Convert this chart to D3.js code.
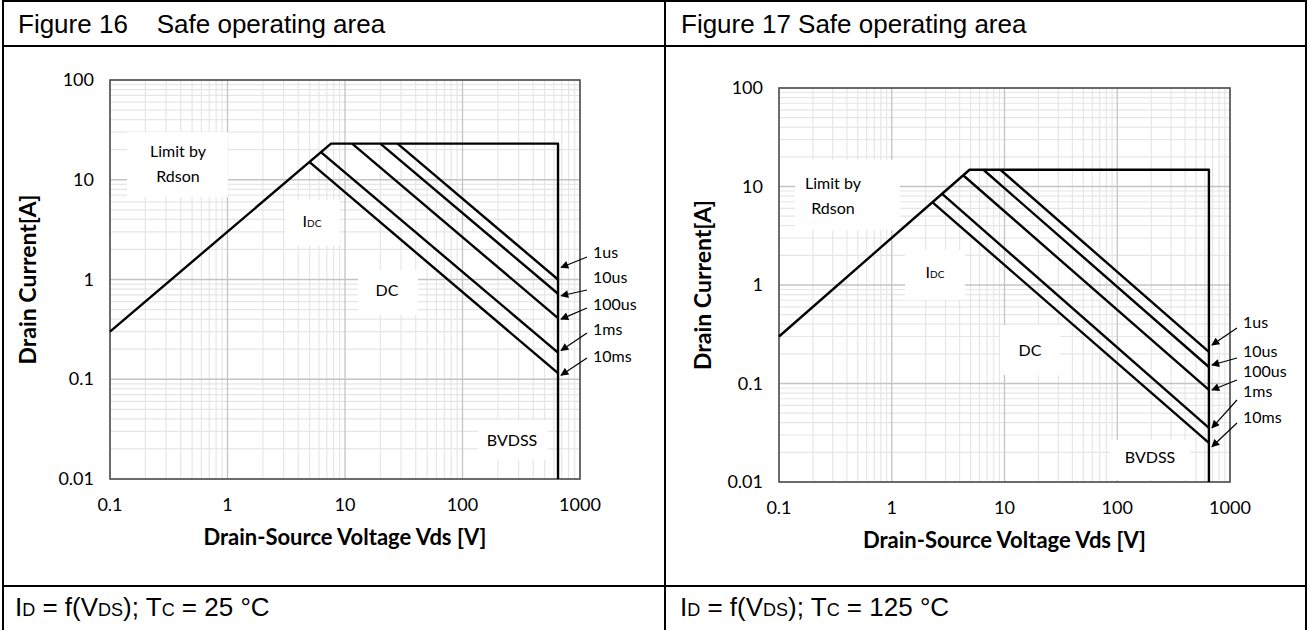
<html>
<head>
<script src="https://d3js.org/d3.v7.min.js"></script>
<style>
  body { margin: 0; background: #fff; }
</style>
</head>
<body>
<svg id="page" width="1308" height="630"></svg>
<script>
// axis ticks
var xTicks = [0.1, 1, 10, 100, 1000];
var yTicks = [0.01, 0.1, 1, 10, 100];
var pulseNames = ["1us", "10us", "100us", "1ms", "10ms"];

// Figure 16, Tc = 25 °C   points are [Vds, Id]
var limit16 = [[0.1, 0.3], [7.6, 23], [650, 23], [650, 0.01]];
var start16 = [[28, 23], [20, 23], [11.5, 23], [6.2, 19], [5, 15]];
var end16 = [[650, 1.0], [650, 0.72], [650, 0.41], [650, 0.185], [650, 0.115]];

// Figure 17, Tc = 125 °C
var limit17 = [[0.1, 0.3], [4.9, 14.8], [650, 14.8], [650, 0.01]];
var start17 = [[9.2, 14.8], [6.5, 14.8], [4.3, 13], [2.8, 8.4], [2.3, 6.9]];
var end17 = [[650, 0.209], [650, 0.147], [650, 0.086], [650, 0.0355], [650, 0.025]];

var svg = d3.select('#page')
var chartFont = "Lato, 'Open Sans', sans-serif"
var tableFont = "'Liberation Sans', Arial, sans-serif"

svg.append('defs').append('marker')
    .attr('id', 'arr')
    .attr('viewBox', '0 0 10 10')
    .attr('refX', 9).attr('refY', 5)
    .attr('markerWidth', 9).attr('markerHeight', 8)
    .attr('markerUnits', 'userSpaceOnUse')
    .attr('orient', 'auto')
    .append('path').attr('d', 'M0,0 L10,5 L0,10 z').attr('fill', '#000')

// table borders
var table = svg.append('g').attr('stroke', '#000').attr('stroke-width', 2)
table.append('line').attr('x1', 3).attr('x2', 3).attr('y1', 0).attr('y2', 630)
table.append('line').attr('x1', 665).attr('x2', 665).attr('y1', 0).attr('y2', 630)
table.append('line').attr('x1', 1306).attr('x2', 1306).attr('y1', 0).attr('y2', 630)
table.append('line').attr('x1', 2).attr('x2', 1307).attr('y1', 1).attr('y2', 1)
table.append('line').attr('x1', 2).attr('x2', 1307).attr('y1', 46).attr('y2', 46)
table.append('line').attr('x1', 2).attr('x2', 1307).attr('y1', 586).attr('y2', 586)

function caption(x, tc) {
    var t = svg.append('text').attr('x', x).attr('y', 616)
        .style('font-family', tableFont).style('font-size', '26px').attr('fill', '#000')
    t.append('tspan').text('I')
    t.append('tspan').text('D').style('font-size', '18px')
    t.append('tspan').text(' = f(V')
    t.append('tspan').text('DS').style('font-size', '18px')
    t.append('tspan').text('); T')
    t.append('tspan').text('C').style('font-size', '18px')
    t.append('tspan').text(' = ' + tc + ' \u00b0C')
}

function drawPanel(p) {
    var x = d3.scaleLog().domain([0.1, 1000]).range(p.xr)
    var y = d3.scaleLog().domain([0.01, 100]).range(p.yr)
    var g = svg.append('g')

    // title
    svg.append('text').attr('x', p.titleX).attr('y', 33)
        .style('font-family', tableFont).style('font-size', '26px')
        .attr('xml:space', 'preserve')
        .text(p.title)

    // grid
    var minorX = [], minorY = []
    xTicks.slice(0, -1).forEach(function(d) {
        for (var k = 2; k < 10; k++) minorX.push(d * k)
    })
    yTicks.slice(0, -1).forEach(function(d) {
        for (var k = 2; k < 10; k++) minorY.push(d * k)
    })
    g.selectAll('line.mx').data(minorX).enter().append('line')
        .attr('x1', x).attr('x2', x).attr('y1', p.yr[1]).attr('y2', p.yr[0])
        .attr('stroke', '#e6e6e6').attr('stroke-width', 1.2)
    g.selectAll('line.my').data(minorY).enter().append('line')
        .attr('y1', y).attr('y2', y).attr('x1', p.xr[0]).attr('x2', p.xr[1])
        .attr('stroke', '#e6e6e6').attr('stroke-width', 1.2)
    g.selectAll('line.gx').data(xTicks).enter().append('line')
        .attr('x1', x).attr('x2', x).attr('y1', p.yr[1]).attr('y2', p.yr[0])
        .attr('stroke', '#c4c4c4').attr('stroke-width', 1.3)
    g.selectAll('line.gy').data(yTicks).enter().append('line')
        .attr('y1', y).attr('y2', y).attr('x1', p.xr[0]).attr('x2', p.xr[1])
        .attr('stroke', '#c4c4c4').attr('stroke-width', 1.3)

    // annotation text boxes (white background like the source)
    var notes = g.append('g').style('font-family', chartFont).style('font-size', '16px').attr('fill', '#000')
    p.boxes.forEach(function(b) {
        g.insert('rect', 'g').attr('x', b[0]).attr('y', b[1]).attr('width', b[2]).attr('height', b[3]).attr('fill', '#fff')
    })
    notes.append('text').attr('x', p.limitPos[0]).attr('y', p.limitPos[1]).attr('text-anchor', 'middle').text('Limit by')
    notes.append('text').attr('x', p.limitPos[0]).attr('y', p.limitPos[1] + 25).attr('text-anchor', 'middle').text('Rdson')
    var idc = notes.append('text').attr('x', p.idcPos[0]).attr('y', p.idcPos[1]).attr('text-anchor', 'middle')
    idc.append('tspan').text('I')
    idc.append('tspan').text('DC').style('font-size', '10px')
    notes.append('text').attr('x', p.dcPos[0]).attr('y', p.dcPos[1]).attr('text-anchor', 'middle').text('DC')
    notes.append('text').attr('x', p.bvPos[0]).attr('y', p.bvPos[1]).attr('text-anchor', 'middle').text('BVDSS')

    // frame
    g.append('rect').attr('x', p.xr[0]).attr('y', p.yr[1])
        .attr('width', p.xr[1] - p.xr[0]).attr('height', p.yr[0] - p.yr[1])
        .attr('fill', 'none').attr('stroke', '#505050').attr('stroke-width', 1.6)

    // curves
    var line = d3.line().x(function(d) { return x(d[0]) }).y(function(d) { return y(d[1]) })
    var curves = g.append('g').attr('fill', 'none').attr('stroke', '#000')
        .attr('stroke-width', 2.4).attr('stroke-linejoin', 'round')
    curves.append('path').attr('d', line(p.limit))
    curves.selectAll('path.pulse').data(p.start).enter().append('path')
        .attr('class', 'pulse')
        .attr('d', function(d, i) { return line([d, p.end[i]]) })

    // pulse labels with arrows
    var lab = g.append('g').style('font-family', chartFont).style('font-size', '16px')
    pulseNames.forEach(function(name, i) {
        var ty = p.labelY[i]
        lab.append('text').attr('x', p.labelX).attr('y', ty + 5).text(name)
        lab.append('line')
            .attr('x1', p.labelX - 6).attr('y1', ty + p.tailDy[i])
            .attr('x2', x(p.end[i][0]) + 3).attr('y2', y(p.end[i][1]) + p.headDy[i])
            .attr('stroke', '#000').attr('stroke-width', 1.2)
            .attr('marker-end', 'url(#arr)')
    })

    // tick labels
    var ticks = g.append('g').style('font-family', chartFont).style('font-size', '18px').attr('fill', '#000')
    ticks.selectAll('text.yt').data(yTicks).enter().append('text')
        .attr('x', p.xr[0] - 16).attr('y', function(d) { return y(d) + 6 })
        .attr('text-anchor', 'end')
        .text(function(d) { return d3.format('~g')(d) })
    ticks.selectAll('text.xt').data(xTicks).enter().append('text')
        .attr('x', x).attr('y', p.yr[0] + 32)
        .attr('text-anchor', 'middle')
        .text(function(d) { return d3.format('~g')(d) })

    // axis titles
    g.append('text')
        .attr('x', (p.xr[0] + p.xr[1]) / 2).attr('y', p.yr[0] + 66)
        .attr('text-anchor', 'middle')
        .style('font-family', chartFont).style('font-size', '22px').style('font-weight', 'bold')
        .text('Drain-Source Voltage Vds [V]')
    g.append('text')
        .attr('transform', 'translate(' + p.yTitleX + ',' + (p.yr[0] + p.yr[1]) / 2 + ') rotate(-90)')
        .attr('text-anchor', 'middle')
        .style('font-family', chartFont).style('font-size', '23px').style('font-weight', 'bold')
        .text('Drain Current[A]')
}

drawPanel({
    title: 'Figure 16    Safe operating area', titleX: 18,
    xr: [110, 580], yr: [479, 80],
    limit: limit16, start: start16, end: end16,
    limitPos: [178, 157], idcPos: [312, 227], dcPos: [387, 296], bvPos: [512, 446],
    boxes: [[127, 132, 101, 65], [285, 200, 55, 45], [358, 270, 60, 45], [478, 420, 70, 40]],
    labelX: 593, labelY: [253, 278, 305, 330, 357],
    tailDy: [4, 12, 3, 3, 1], headDy: [-12, 2, 1, -2, 2],
    yTitleX: 36
})

drawPanel({
    title: 'Figure 17 Safe operating area', titleX: 681,
    xr: [779, 1230], yr: [482, 88],
    limit: limit17, start: start17, end: end17,
    limitPos: [833, 189], idcPos: [935, 278], dcPos: [1030, 356], bvPos: [1150, 463],
    boxes: [[795, 160, 105, 70], [905, 250, 60, 50], [1000, 325, 60, 50], [1110, 440, 80, 40]],
    labelX: 1243, labelY: [323, 352, 372, 392, 418],
    tailDy: [5, 6, 8, 8, 5], headDy: [-7, -2, 0, 0, 4],
    yTitleX: 711
})

caption(15, 25)
caption(680, 125)
</script>
</body>
</html>
